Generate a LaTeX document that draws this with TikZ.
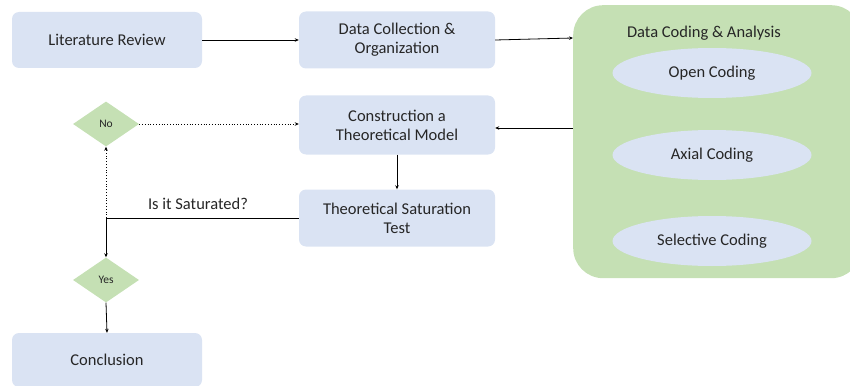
\documentclass[tikz,border=0pt]{standalone}
\usepackage{fontspec}
\setmainfont{Carlito}
\usetikzlibrary{shapes.geometric,arrows.meta}
\definecolor{boxblue}{HTML}{DAE3F3}
\definecolor{boxgreen}{HTML}{C5E0B4}
\definecolor{inkgray}{HTML}{262626}
\tikzset{
  lbl/.style={font=\fontsize{16.5}{19}\selectfont, text=inkgray},
  stepbox/.style={lbl, fill=boxblue, rounded corners=7pt, minimum width=196pt, minimum height=57pt, align=center, inner sep=0pt},
  codeell/.style={lbl, ellipse, fill=boxblue, minimum width=199pt, minimum height=50pt, inner sep=0pt},
  decision/.style={diamond, fill=boxgreen, minimum width=66pt, minimum height=45pt, font=\fontsize{11.5}{12}\selectfont, text=inkgray, inner sep=0pt, aspect=1.5},
  arr/.style={-{Stealth[length=4pt,width=3.5pt]}, line width=0.8pt},
  dotarr/.style={-{Stealth[length=4pt,width=3.5pt]}, line width=0.8pt, dotted}
}
\begin{document}
\begin{tikzpicture}[x=1pt,y=-1pt]
\useasboundingbox (0,0) rectangle (850,385);
% big analysis panel
\node[fill=boxgreen, rounded corners=30pt, minimum width=288pt, minimum height=273pt, inner sep=0pt, anchor=north west] (panel) at (573,5) {};
\node[lbl] (ptitle) at (704,33) {Data Coding \& Analysis};
\node[codeell] (open) at (712,73) {Open Coding};
\node[codeell] (axial) at (712,155) {Axial Coding};
\node[codeell] (sel) at (712,241) {Selective Coding};

% process boxes
\node[stepbox, minimum width=190pt, minimum height=56pt] (lit) at (107,40) {Literature Review};
\node[stepbox] (coll) at (397,40) {Data Collection \&\\Organization};
\node[stepbox, minimum height=59pt] (model) at (397,125) {Construction a\\Theoretical Model};
\node[stepbox] (sat) at (397,218) {Theoretical Saturation\\Test};
\node[stepbox, minimum width=190pt, minimum height=54pt] (concl) at (107,360) {Conclusion};

% decisions
\node[decision] (no) at (106,124) {No};
\node[decision] (yes) at (106,280) {Yes};
\coordinate (split) at (106,218);

% connectors
\draw[arr] (lit) -- (coll);
\draw[arr] (coll.east) -- (panel.west |- 0,38);
\draw[arr] (panel.west |- 0,128) -- (model.east |- 0,128);
\draw[arr] (model) -- (sat);
\draw[line width=0.8pt] (sat.west) -- (split);
\draw[arr] (split) -- (yes.north);
\draw[dotarr] (split) -- (no.south);
\draw[dotarr] (no.east) -- (model.west |- no.east);
\draw[arr] (yes.south) -- (concl.north);
\node[lbl] (q) at (198,204) {Is it Saturated?};
\end{tikzpicture}
\end{document}
